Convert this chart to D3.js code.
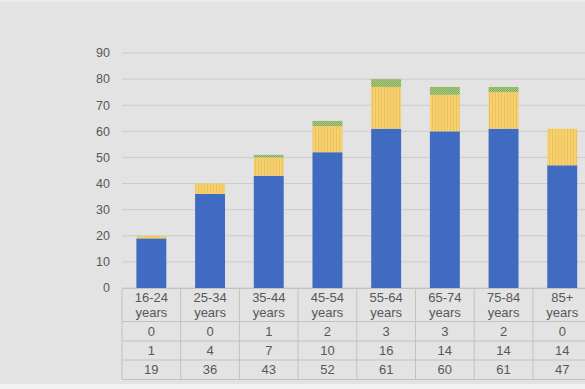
<!DOCTYPE html>
<html>
<head>
<meta charset="utf-8">
<script src="https://cdn.jsdelivr.net/npm/d3@7"></script>
<style>
  body { margin: 0; background: #e3e3e3; }
  svg { display: block; }
</style>
</head>
<body>
<div id="chart"></div>
<script>
const categories = ["16-24", "25-34", "35-44", "45-54", "55-64", "65-74", "75-84", "85+"];
const greenVals = [0, 0, 1, 2, 3, 3, 2, 0];
const yellowVals = [1, 4, 7, 10, 16, 14, 14, 14];
const blueVals = [19, 36, 43, 52, 61, 60, 61, 47];
const yTicks = [0, 10, 20, 30, 40, 50, 60, 70, 80, 90];

const W = 585, H = 389;
const svg = d3.select("#chart").append("svg")
  .attr("width", W).attr("height", H);

svg.append("rect").attr("width", W).attr("height", H).attr("fill", "#e3e3e3");
svg.append("rect").attr("x", 0).attr("y", 384).attr("width", W).attr("height", 5).attr("fill", "#f1f1f1");
svg.append("rect").attr("x", 0).attr("y", 0).attr("width", W).attr("height", 2).attr("fill", "#ececec");

const defs = svg.append("defs");
const yp = defs.append("pattern").attr("id", "yel")
  .attr("patternUnits", "userSpaceOnUse").attr("width", 3).attr("height", 3);
yp.append("rect").attr("width", 3).attr("height", 3).attr("fill", "#f7d16f");
yp.append("rect").attr("width", 1).attr("height", 3).attr("fill", "#ecc25c");

const gp = defs.append("pattern").attr("id", "grn")
  .attr("patternUnits", "userSpaceOnUse").attr("width", 2).attr("height", 2);
gp.append("rect").attr("width", 2).attr("height", 2).attr("fill", "#a9c983");
gp.append("rect").attr("width", 1).attr("height", 1).attr("fill", "#86ad58");
gp.append("rect").attr("x", 1).attr("y", 1).attr("width", 1).attr("height", 1).attr("fill", "#86ad58");

const left = 122, step = 58.7;
const x = d3.scaleBand().domain(categories)
  .range([left, left + step * categories.length]).padding(0);
const y = d3.scaleLinear().domain([0, 90]).range([288, 53]);

// gridlines
svg.append("g").selectAll("line").data(yTicks).join("line")
  .attr("x1", left).attr("x2", W)
  .attr("y1", d => y(d)).attr("y2", d => y(d))
  .attr("stroke", "#cbcbcb").attr("stroke-width", 1);

// y labels
svg.append("g").selectAll("text").data(yTicks).join("text")
  .attr("x", 110).attr("y", d => y(d)).attr("dy", "0.35em")
  .attr("text-anchor", "end")
  .attr("font-family", "Liberation Sans, Arial, sans-serif")
  .attr("font-size", 12.5).attr("fill", "#585858")
  .text(d => d);

// stacked bars
const rows = categories.map((c, i) => ({ cat: c, blue: blueVals[i], yellow: yellowVals[i], green: greenVals[i] }));
const stack = d3.stack().keys(["blue", "yellow", "green"])(rows);
const fills = { blue: "#3f6cc1", yellow: "url(#yel)", green: "url(#grn)" };
const bw = step * 0.51;

svg.append("g").selectAll("g").data(stack).join("g")
  .attr("fill", s => fills[s.key])
  .selectAll("rect").data(s => s).join("rect")
  .attr("x", d => x(d.data.cat) + (x.bandwidth() - bw) / 2)
  .attr("y", d => y(d[1]))
  .attr("width", bw)
  .attr("height", d => y(d[0]) - y(d[1]));

// data table
const rowEdges = [288.5, 321.5, 341, 360, 379.5];
const tableRight = left + step * categories.length;
const tbl = svg.append("g")
  .attr("stroke", "#c2c2c2").attr("stroke-width", 1);
rowEdges.forEach(r => {
  tbl.append("line").attr("x1", left).attr("x2", tableRight).attr("y1", r).attr("y2", r);
});
d3.range(categories.length + 1).forEach(i => {
  const xx = left + step * i;
  tbl.append("line").attr("x1", xx).attr("x2", xx).attr("y1", rowEdges[0]).attr("y2", rowEdges[4]);
});

const txt = svg.append("g")
  .attr("font-family", "Liberation Sans, Arial, sans-serif")
  .attr("font-size", 13).attr("fill", "#585858").attr("text-anchor", "middle");

categories.forEach((c, i) => {
  const cx = x(c) + x.bandwidth() / 2;
  txt.append("text").attr("x", cx).attr("y", 297.5).attr("dy", "0.35em").text(c);
  txt.append("text").attr("x", cx).attr("y", 312.5).attr("dy", "0.35em").text("years");
  txt.append("text").attr("x", cx).attr("y", 331).attr("dy", "0.35em").text(greenVals[i]);
  txt.append("text").attr("x", cx).attr("y", 350.5).attr("dy", "0.35em").text(yellowVals[i]);
  txt.append("text").attr("x", cx).attr("y", 369.5).attr("dy", "0.35em").text(blueVals[i]);
});
</script>
</body>
</html>
